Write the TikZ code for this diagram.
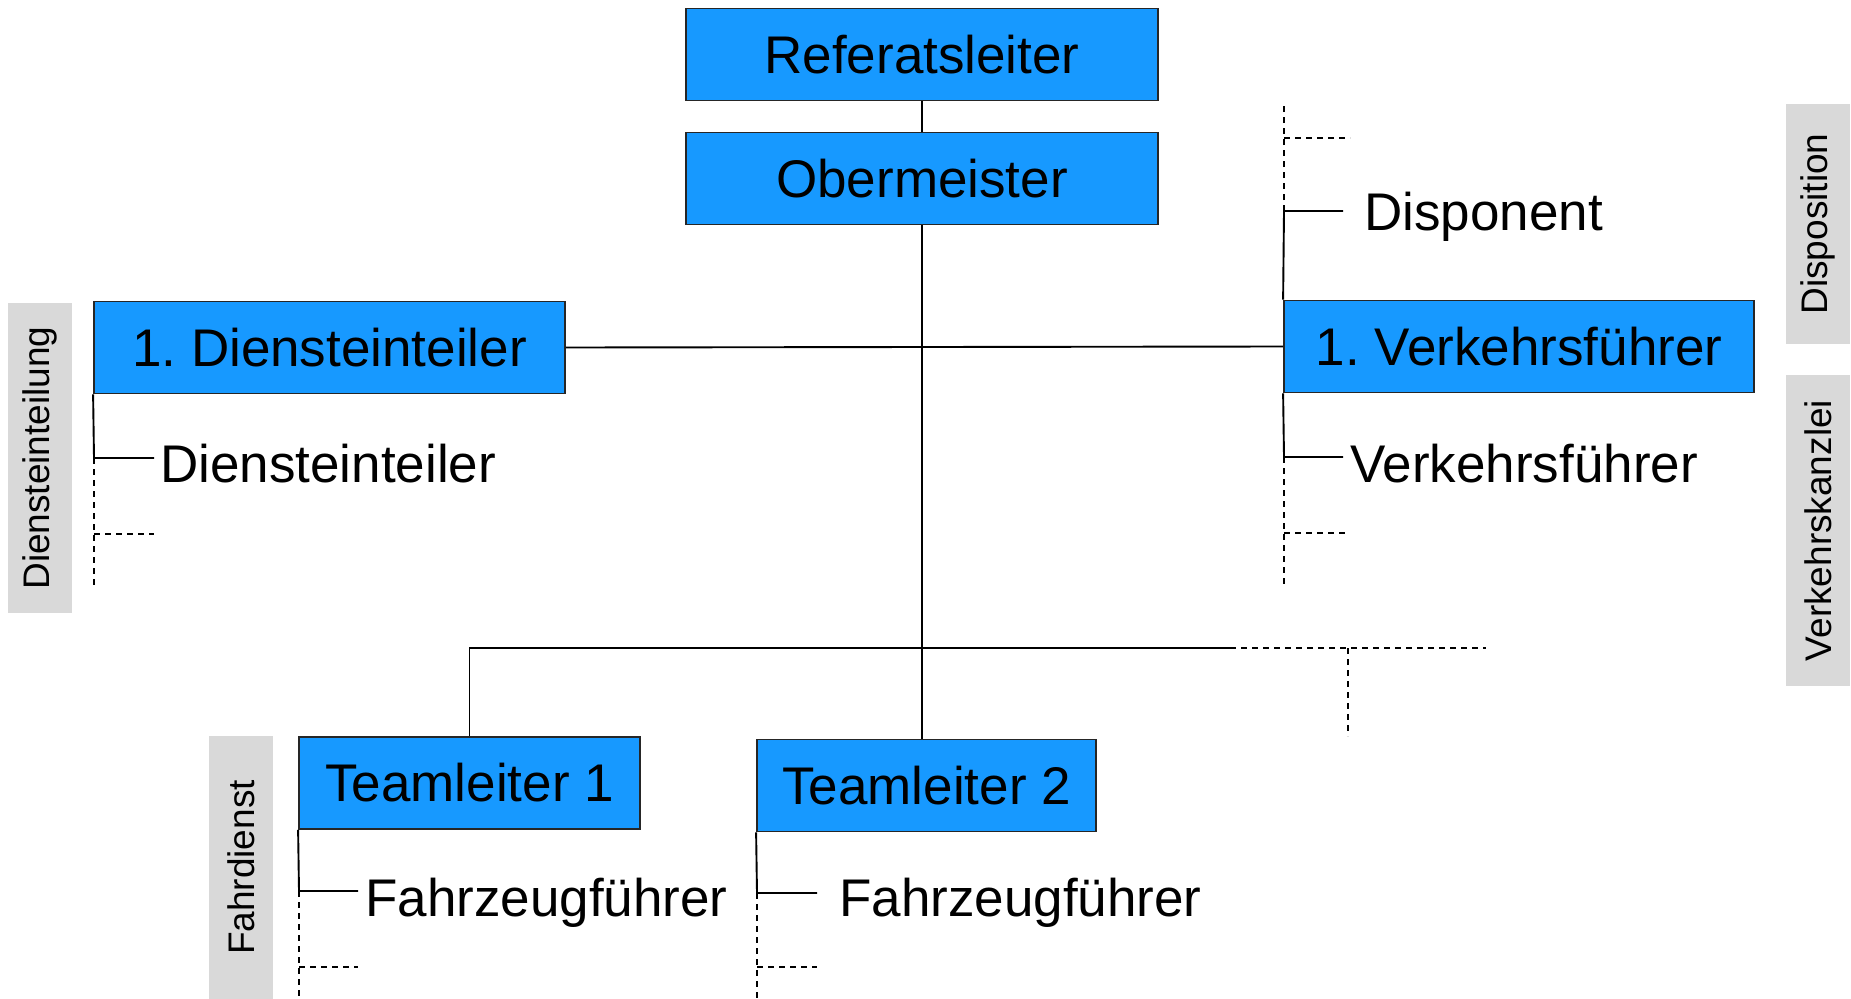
\documentclass[tikz,border=0pt]{standalone}
\usepackage{fontspec}
\setmainfont{Liberation Sans}
\frenchspacing

\definecolor{boxblue}{HTML}{1799FF}
\definecolor{areagray}{HTML}{D9D9D9}

\tikzset{
	unit/.style={draw=black!85, line width=1.8pt, fill=boxblue, minimum height=92pt, inner sep=0pt, font=\fontsize{53}{60}\selectfont},
	staff/.style={anchor=base west, inner sep=0pt, font=\fontsize{53}{60}\selectfont},
	area/.style={fill=areagray, rotate=90, minimum height=64pt, inner sep=0pt, font=\fontsize{37}{40}\selectfont},
	link/.style={line width=1.9pt},
	open/.style={line width=1.8pt, dash pattern=on 6pt off 5pt},
}

\begin{document}
\begin{tikzpicture}[x=1pt, y=-1pt]
		\useasboundingbox (0,0) rectangle (1851,998);
		% Leitung
		\node[unit, minimum width=472pt] (ref) at (922,54.5) {Referatsleiter};
		\node[unit, minimum width=472pt] (ober) at (922,178.5) {Obermeister};
		\node[unit, minimum width=471pt] (dei) at (329.5,347.5) {1. Diensteinteiler};
		\node[unit, minimum width=470pt] (vf) at (1519,346.5) {1. Verkehrsführer};
		\node[unit, minimum width=341pt] (tl1) at (469.5,783) {Teamleiter 1};
		\node[unit, minimum width=339pt] (tl2) at (926.5,785.5) {Teamleiter 2};
		% Mitarbeiter
		\node[staff] (dispo) at (1364,230) {Disponent};
		\node[staff] (vfs) at (1350,482) {Verkehrsführer};
		\node[staff] (deis) at (160,482) {Diensteinteiler};
		\node[staff] (fzf1) at (365,916) {Fahrzeugführer};
		\node[staff] (fzf2) at (839,916) {Fahrzeugführer};
		% Bereiche
		\node[area, minimum width=310pt] (dein) at (39.5,458) {Diensteinteilung};
		\node[area, minimum width=240pt] (disp) at (1818,224) {Disposition};
		\node[area, minimum width=311pt] (vkz) at (1818,530.5) {Verkehrskanzlei};
		\node[area, minimum width=263pt] (fahr) at (241,867.5) {Fahrdienst};
		% Verbindungen
		\draw[link] (ref) -- (ober);
		\draw[link] (ober.south) -- (ober.south |- tl2.north);
		\draw[link] (dei.east) -- (vf.west);
		\coordinate (busR) at (1230,648);
		\coordinate (busE) at (1486,648);
		\coordinate (slot) at (1348,736);
		\draw[link] (tl1.north) -- (tl1.north |- busR) -- (busR);
		\draw[open] (busR) -- (busE);
		\draw[open] (slot |- busR) -- (slot);
		% rechts
		\coordinate (dj) at (1284,211);
		\draw[link] (vf.north west) -- (dj) -- ++(59,0);
		\draw[open] (dj) -- (1284,102);
		\draw[open] (1284,138) -- ++(66,0);
		\coordinate (vj) at (1284,457);
		\draw[link] (vf.south west) -- (vj) -- ++(59,0);
		\draw[open] (vj) -- (1284,584);
		\draw[open] (1284,533) -- ++(61,0);
		% links
		\coordinate (dj2) at (94,458);
		\draw[link] (dei.south west) -- (dj2) -- ++(60,0);
		\draw[open] (dj2) -- (94,586);
		\draw[open] (94,534) -- ++(60,0);
		% Fahrdienst
		\coordinate (fj1) at (299,891);
		\draw[link] (tl1.south west) -- (fj1) -- ++(59,0);
		\draw[open] (fj1) -- (299,998);
		\draw[open] (299,967) -- ++(59,0);
		\coordinate (fj2) at (757,893);
		\draw[link] (tl2.south west) -- (fj2) -- ++(60,0);
		\draw[open] (fj2) -- (757,998);
		\draw[open] (757,967) -- ++(60,0);
	\end{tikzpicture}
\end{document}
